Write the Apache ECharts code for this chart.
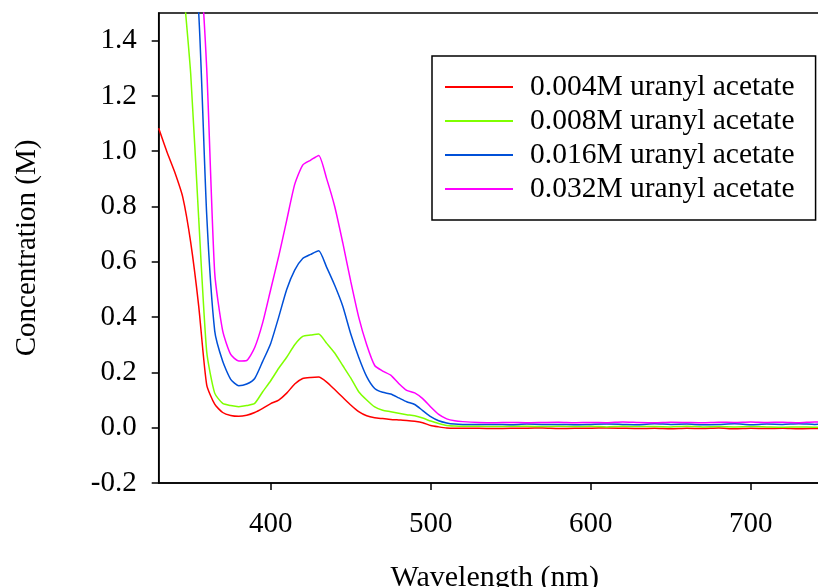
<!DOCTYPE html>
<html>
<head>
<meta charset="utf-8">
<script src="https://cdn.jsdelivr.net/npm/echarts@6/dist/echarts.min.js"></script>
<style>
html,body{margin:0;padding:0;background:#fff;}
#chart{width:818px;height:587px;}
</style>
</head>
<body>
<div id="chart"></div>
<script>
const wavelengths = [330,335,340,345,350,355,360,365,370,375,380,385,390,395,400,405,410,415,420,425,430,435,440,445,450,455,460,465,470,475,480,485,490,495,500,505,510,515,520,
530,540,550,560,570,580,590,600,610,620,630,640,650,660,670,680,690,700,710,720,730,740,750];

const red = [1.083,1.0,0.925,0.835,0.67,0.44,0.155,0.085,0.055,0.044,0.041,0.045,0.055,0.07,0.087,0.10,0.125,0.158,0.178,0.182,0.183,0.165,0.138,0.11,0.082,0.058,0.043,0.036,0.033,0.030,0.028,0.026,0.023,0.018,0.008,0.003,-0.001,-0.002,-0.002,
-0.002,-0.003,-0.002,-0.002,-0.001,-0.003,-0.002,-0.002,-0.001,-0.002,-0.003,-0.002,-0.004,-0.002,-0.003,-0.001,-0.004,-0.002,-0.003,-0.002,-0.004,-0.003,-0.002];

const green = [2.6,2.3,1.95,1.62,1.28,0.757,0.275,0.125,0.088,0.08,0.076,0.08,0.088,0.13,0.17,0.215,0.255,0.30,0.33,0.335,0.339,0.305,0.27,0.225,0.18,0.13,0.10,0.075,0.063,0.058,0.052,0.047,0.043,0.035,0.024,0.015,0.008,0.006,0.005,
0.005,0.004,0.005,0.005,0.004,0.005,0.004,0.005,0.003,0.005,0.004,0.004,0.003,0.005,0.003,0.004,0.003,0.004,0.003,0.002,0.003,0.002,0.002];

const blue = [3.0,2.65,2.3,2.0,1.75,1.5,0.77,0.35,0.24,0.175,0.152,0.158,0.178,0.24,0.305,0.40,0.50,0.57,0.612,0.627,0.64,0.58,0.515,0.44,0.34,0.255,0.185,0.142,0.128,0.122,0.108,0.094,0.084,0.062,0.04,0.025,0.017,0.013,0.012,
0.012,0.012,0.011,0.013,0.012,0.012,0.011,0.012,0.013,0.012,0.011,0.014,0.012,0.013,0.011,0.012,0.014,0.011,0.013,0.012,0.014,0.012,0.013];

const magenta = [3.2,2.85,2.5,2.2,1.95,1.75,1.3,0.56,0.35,0.265,0.241,0.243,0.29,0.38,0.50,0.62,0.75,0.88,0.95,0.968,0.985,0.90,0.80,0.67,0.53,0.40,0.30,0.225,0.205,0.19,0.16,0.135,0.126,0.105,0.075,0.048,0.032,0.025,0.022,
0.019,0.018,0.019,0.018,0.019,0.020,0.018,0.019,0.018,0.021,0.019,0.018,0.020,0.019,0.018,0.020,0.019,0.021,0.019,0.020,0.018,0.021,0.020];

const seriesNames = ['0.004M uranyl acetate','0.008M uranyl acetate','0.016M uranyl acetate','0.032M uranyl acetate'];
const seriesValues = [red, green, blue, magenta];
const seriesColors = ['#ff0000','#7fff00','#0050d8','#ff00ff'];
const xTicks = [400,500,600,700];
const yTicks = [-0.2,0.0,0.2,0.4,0.6,0.8,1.0,1.2,1.4];

const font = 'Liberation Serif, Times New Roman, serif';
const chart = echarts.init(document.getElementById('chart'), null, {renderer:'canvas'});
chart.setOption({
  animation:false,
  backgroundColor:'#fff',
  grid:{left:158.7, top:13, width:672, height:470, show:true, borderColor:'#000', borderWidth:1.5, backgroundColor:'transparent', outerBoundsMode:'none', containLabel:false},
  xAxis:{
    type:'value', min:330, max:750,
    name:'Wavelength (nm)', nameLocation:'middle', nameGap:80,
    nameTextStyle:{fontFamily:font, fontSize:30, color:'#000'},
    axisLine:{show:true, onZero:false, lineStyle:{color:'#000', width:1.5}},
    axisTick:{show:true, inside:false, length:7, lineStyle:{color:'#000', width:1.5}, customValues:xTicks},
    axisLabel:{fontFamily:font, fontSize:29, color:'#000', margin:27, customValues:xTicks},
    splitLine:{show:false}
  },
  yAxis:{
    type:'value', min:-0.2, max:1.5,
    name:'Concentration (M)', nameLocation:'middle', nameGap:117,
    nameTextStyle:{fontFamily:font, fontSize:29, color:'#000'},
    axisLine:{show:true, onZero:false, lineStyle:{color:'#000', width:1.5}},
    axisTick:{show:true, inside:false, length:7, lineStyle:{color:'#000', width:1.5}, customValues:yTicks},
    axisLabel:{fontFamily:font, fontSize:29, color:'#000', margin:22, customValues:yTicks, formatter:v=>v.toFixed(1)},
    splitLine:{show:false}
  },
  legend:{
    orient:'vertical', left:432, top:56,
    padding:[14,21,14,13],
    borderColor:'#000', borderWidth:1.5, backgroundColor:'#fff',
    itemWidth:68, itemHeight:2, itemGap:0, icon:'rect',
    textStyle:{fontFamily:font, fontSize:29.5, color:'#000', lineHeight:34, padding:[0,0,0,12]},
    data:seriesNames
  },
  series:seriesNames.map((n,i)=>({
    name:n, type:'line', showSymbol:false, symbol:'none', clip:true,
    smooth:0.2,
    lineStyle:{color:seriesColors[i], width:1.5},
    itemStyle:{color:seriesColors[i]},
    data:wavelengths.map((w,j)=>[w, seriesValues[i][j]])
  }))
});
</script>
</body>
</html>
